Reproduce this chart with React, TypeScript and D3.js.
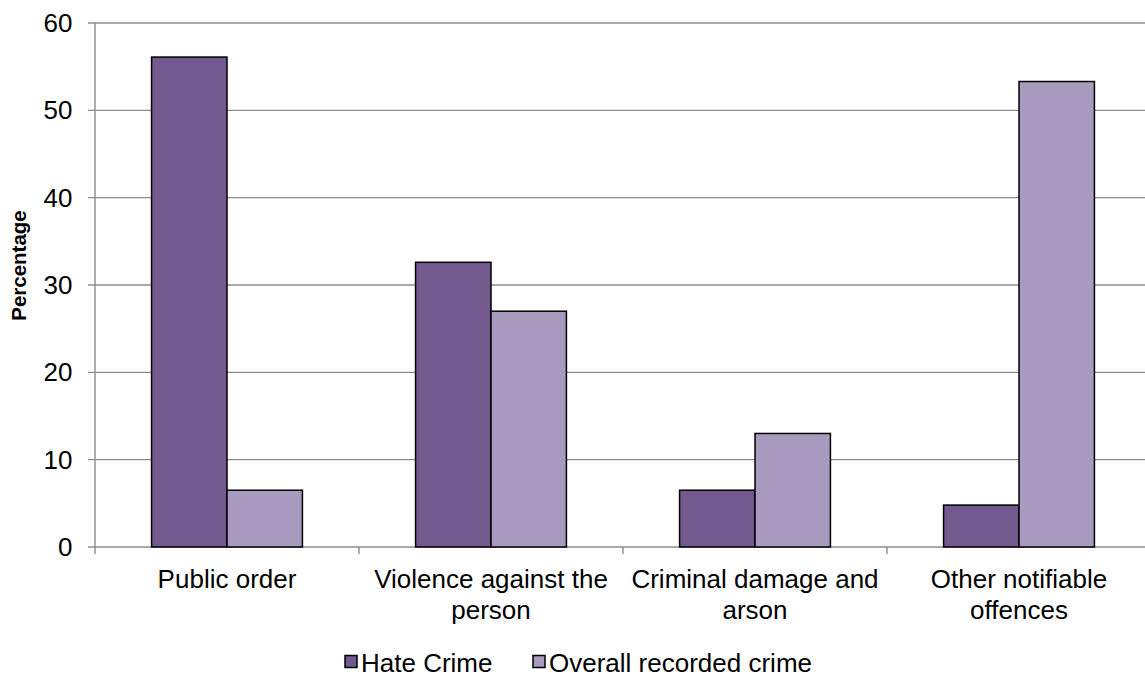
import React from "react";
import * as d3 from "d3";

const categories = ["Public order", "Violence against the person", "Criminal damage and arson", "Other notifiable offences"];
const categoryLines = [["Public order"], ["Violence against the", "person"], ["Criminal damage and", "arson"], ["Other notifiable", "offences"]];
const seriesNames = ["Hate Crime", "Overall recorded crime"];
const hateCrime = [56.1, 32.6, 6.5, 4.8];
const overallCrime = [6.5, 27.0, 13.0, 53.3];
const yTicks = [0, 10, 20, 30, 40, 50, 60];
const colors = ["#725A8F", "#A99ABF"];

const W = 1145, H = 676;
const FONT = "Liberation Sans, Arial, sans-serif";
const SX = 1.02;

function T({ x, y, anchor = "start", size = 25.5, weight = "normal", children }: any) {
  return (
    <g transform={`translate(${x},${y}) scale(${SX},1)`}>
      <text x={0} y={0} textAnchor={anchor} fontSize={size} fontWeight={weight} fontFamily={FONT} fill="#000">{children}</text>
    </g>
  );
}

export default function App() {
  const left = 95, top = 23, bottom = 547;
  const bandW = 264;
  const x = d3.scaleBand<string>().domain(categories).range([left, left + bandW * categories.length]).padding(0);
  const inner = d3.scaleBand<string>().domain(seriesNames).range([0, x.bandwidth()]).paddingInner(0).paddingOuter(0.75);
  const y = d3.scaleLinear().domain([0, 60]).range([bottom, top]);
  const series = [hateCrime, overallCrime];
  const axisColor = "#8c8c8c";

  return (
    <svg width={W} height={H} style={{ position: "absolute", left: 0, top: 0, background: "#fff" }}>
      {yTicks.map((t) => (
        <g key={t}>
          <line x1={left - 7} x2={W} y1={y(t)} y2={y(t)} stroke={axisColor} strokeWidth={1.4} />
          <T x={72.5} y={y(t) + 9} anchor="end">{t}</T>
        </g>
      ))}
      <line x1={left} x2={left} y1={top} y2={bottom + 7} stroke={axisColor} strokeWidth={1.4} />
      {categories.map((c, i) => (
        <line key={c} x1={x(c)! + bandW} x2={x(c)! + bandW} y1={bottom} y2={bottom + 7} stroke={axisColor} strokeWidth={1.4} />
      ))}
      {categories.map((c, i) => (
        <g key={c}>
          {series.map((vals, si) => (
            <rect
              key={si}
              x={x(c)! + inner(seriesNames[si])!}
              y={y(vals[i])}
              width={inner.bandwidth()}
              height={y(0) - y(vals[i])}
              fill={colors[si]}
              stroke="#000"
              strokeWidth={1.5}
            />
          ))}
        </g>
      ))}
      {categories.map((c, i) => (
        <g key={c + "l"}>
          {categoryLines[i].map((ln, li) => (
            <T key={li} x={x(c)! + bandW / 2} y={587.5 + li * 31} anchor="middle">{ln}</T>
          ))}
        </g>
      ))}
      <g transform="translate(26,265.5) rotate(-90)">
        <text x={0} y={0} textAnchor="middle" fontSize={20.5} fontWeight="bold" fontFamily={FONT}>Percentage</text>
      </g>
      {seriesNames.map((s, si) => {
        const lx = [345, 533][si];
        return (
          <g key={s}>
            <rect x={lx} y={655.5} width={12} height={12} fill={colors[si]} stroke="#000" strokeWidth={1.5} />
            <T x={lx + 16} y={672}>{s}</T>
          </g>
        );
      })}
    </svg>
  );
}
